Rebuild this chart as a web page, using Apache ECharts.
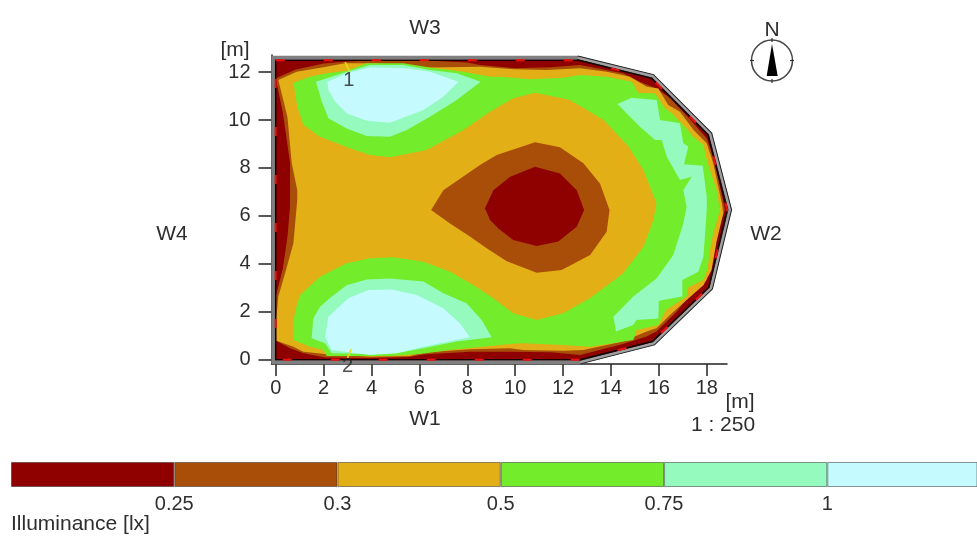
<!DOCTYPE html>
<html>
<head>
<meta charset="utf-8">
<style>html,body{margin:0;padding:0;background:#fff}#c{width:977px;height:536px;filter:blur(.45px)}</style>
<script src="https://cdn.jsdelivr.net/npm/echarts@6/dist/echarts.min.js"></script>
</head>
<body>
<div id="c"></div>
<script>
// axis ticks (metres)
const xTicks = [0,2,4,6,8,10,12,14,16,18];
const yTicks = [0,2,4,6,8,10,12];

// legend
const legendTicks = ['0.25','0.3','0.5','0.75','1'];
const legendColors = ['#8f0000','#a94e08','#e3af17','#73ec2b','#94fabd','#c5fbff'];
const legendSpan = [1,1,1,1,1,1];

// room outline, metres
const roomWall = [[0,12.5],[12.64,12.5],[15.7,11.74],[18.05,9.38],[18.85,6.25],[18.08,3.0],[15.72,.74],[12.7,-.02],[0,-.02]];
const wallOuter = [[-.09,12.6],[12.6,12.6],[15.74,11.83],[18.14,9.42],[18.96,6.25],[18.17,2.98],[15.78,.67],[12.7,-.12],[-.09,-.12]];
const wallSlant = [[12.6,12.6],[15.74,11.83],[18.14,9.42],[18.96,6.25],[18.17,2.98],[15.78,.67],[12.7,-.12]];

// illuminance isolines, metres
const isoBrownOuter = [[.02,11.75],[.81,12.1],[2,12.36],[2.9,12.44],[4,12.5],[6,12.5],[8,12.4],[8.53,12.3],[10,12.16],[11.5,12.2],[12.7,12.3],[14.5,11.95],[15.2,11.6],[15.91,11.32],[16.49,10.9],[17.3,10.03],[18,9.23],[18.35,8.19],[18.76,6.24],[18.41,5.26],[18,3.31],[17.3,2.69],[16.74,1.99],[15.9,1.16],[15.49,.95],[14.5,.64],[12.71,.18],[11.5,.3],[9.78,.32],[8.11,.32],[6.17,.2],[5.6,.1],[3.94,.05],[2.06,.08],[1.16,.25],[.6,.46],[.02,.78],[0,2.6],[.3,3.8],[.5,5.2],[.6,6.4],[.6,8.2],[.3,10.3],[.03,11.6]];
const isoGoldOuter = [[.11,11.67],[.88,12.02],[1.99,12.2],[2.9,12.37],[4.22,12.37],[6.44,12.19],[8.53,12.23],[9.93,12.12],[11.3,12.09],[12.71,12.16],[13.82,12.02],[14.79,11.81],[15.49,11.39],[15.98,11.32],[16.39,10.63],[16.88,10.35],[17.45,9.58],[18,9.02],[18.27,8.19],[18.63,6.52],[18.69,6.1],[18.41,4.92],[18.2,3.73],[17.86,3.1],[17.16,2.48],[16.54,1.92],[15.9,1.3],[15.49,1.16],[14.5,.74],[12.85,.39],[12,.36],[10.34,.39],[9.78,.46],[8.11,.42],[6.17,.28],[5.6,.14],[3.94,.11],[2.06,.22],[1.16,.32],[.74,.53],[.03,.78],[.02,1.6],[.11,2.62],[.39,3.59],[.74,4.85],[.9,6.66],[.9,7.08],[.67,8.19],[.49,10.14]];
const isoGreen = [[.74,11.56],[1.43,11.81],[2.13,11.95],[2.96,12.06],[3.8,12.37],[5.33,12.37],[6.44,12.19],[7.84,12.02],[8.95,11.81],[9.37,11.81],[10.62,11.7],[12,11.77],[12.71,11.88],[13.82,11.81],[14.87,11.6],[15.14,11.14],[15.84,11.11],[16.26,10.49],[16.54,10.28],[17.16,9.65],[17.44,9.3],[17.86,8.96],[18,8.33],[18.41,7.07],[18.55,6.24],[18.2,4.99],[18.02,3.73],[17.86,3.31],[17.23,3.01],[17.16,2.62],[16.3,2.06],[15.98,1.43],[15.08,1.23],[14.93,.81],[13.13,.53],[12,.6],[10.34,.67],[9.78,.64],[8.95,.56],[7.28,.39],[6.03,.22],[4.77,.14],[2.13,.14],[1.99,.39],[1.43,.53],[.74,.81],[.74,1.64],[.9,2.34],[1.02,2.69],[1.85,3.45],[2.96,4.01],[3.94,4.22],[4.91,4.26],[6.17,4.08],[7.28,3.66],[8.25,3.11],[9.09,2.55],[9.92,1.92],[10.9,1.64],[12,1.92],[13.12,2.55],[14.5,3.59],[15.36,4.71],[15.77,5.82],[15.9,6.52],[15.35,7.91],[14.73,8.89],[13.69,10],[12.29,10.84],[10.83,11.14],[9.92,10.91],[8.95,10.35],[7.84,9.58],[6.3,8.75],[4.77,8.44],[3.94,8.54],[3.1,8.82],[1.85,9.3],[1.16,9.79],[.9,10.56]];
const isoMintNorth = [[1.68,11.6],[2.96,12.02],[3.94,12.3],[5.33,12.3],[6.44,12.09],[7.56,11.95],[8.56,11.6],[7.56,10.84],[6.44,10.14],[5.47,9.58],[4.77,9.3],[3.8,9.33],[2.96,9.65],[2.2,10.07],[1.92,10.77]];
const isoCyanNorth = [[2.16,11.6],[2.96,11.95],[3.94,12.2],[5.47,12.16],[6.44,12.02],[7.63,11.6],[7,10.97],[6.17,10.42],[4.77,9.89],[3.8,9.97],[2.96,10.28],[2.48,10.77],[2.2,11.25]];
const isoMintSouth = [[1.5,.88],[2.06,.67],[2.34,.25],[3.8,.22],[5.05,.25],[6.17,.46],[7.56,.74],[9.02,.92],[8.6,1.64],[7.97,2.34],[7,2.76],[6.17,3.25],[4.77,3.38],[3.8,3.34],[2.96,3.1],[2.34,2.62],[1.85,2.2],[1.57,1.71]];
const isoCyanSouth = [[2.06,.92],[2.34,.39],[3.94,.18],[5.05,.25],[6.17,.53],[8.11,.92],[7.7,1.5],[7,2.13],[5.89,2.69],[4.84,2.92],[3.87,2.9],[3.03,2.55],[2.2,1.78]];
const isoMintEast = [[14.27,10.67],[14.86,10.93],[15.91,10.84],[16.05,10],[16.88,9.86],[17.02,9.03],[17.23,8.89],[17.05,8.15],[17.83,8.09],[18,6.8],[18,6.24],[17.86,4.29],[17.65,3.66],[16.98,3.31],[16.98,2.62],[16,2.45],[15.98,1.71],[15.07,1.64],[14.93,1.43],[14.21,1.16],[14.1,1.78],[14.93,2.62],[15.9,3.38],[16.6,4.36],[17.02,5.68],[17.16,6.38],[17.02,7.07],[17.37,7.63],[16.88,7.49],[16.33,8.47],[16.12,9.16],[15.84,9.16],[15.21,9.72]];
const isoBrownCentre = [[6.49,6.24],[7,7.07],[8.53,8.12],[9.23,8.54],[10.83,9.07],[11.87,8.86],[12.85,8.19],[13.54,7.35],[13.94,6.24],[13.82,5.33],[13.13,4.36],[11.94,3.73],[10.9,3.62],[9.65,4.1],[8.81,4.64],[8.11,5.13],[7.28,5.68]];
const isoRedCentre = [[8.74,6.31],[9.09,7.07],[9.79,7.63],[10.83,8.05],[11.87,7.77],[12.57,7.07],[12.88,6.24],[12.57,5.54],[11.8,4.92],[10.9,4.74],[9.92,4.99],[9.3,5.47],[8.95,5.82]];

// measurement points
const pointLabels = [['1',3.05,11.66],['2',3.0,-.3]];
const pointMarks = [[[2.9,12.42],[3.1,12.0]],[[3.15,.42],[3.0,.05]]];

const c = legendColors;
const fills = [
  [roomWall,c[0]],[isoBrownOuter,c[1]],[isoGoldOuter,c[2]],[isoGreen,c[3]],
  [isoMintNorth,c[4]],[isoCyanNorth,c[5]],[isoMintSouth,c[4]],[isoCyanSouth,c[5]],[isoMintEast,c[4]],
  [isoBrownCentre,c[1]],[isoRedCentre,c[0]]
];
const textColor = '#2e2e2e';
const font = 'Liberation Sans';
function label(x,y,t,align){
  return {type:'text',x:x,y:y,style:{text:t,font:'21px "Liberation Sans"',fill:textColor,align:align||'center',verticalAlign:'middle'}};
}
function compassTick(x1,y1,x2,y2){
  return {type:'line',shape:{x1:x1,y1:y1,x2:x2,y2:y2},style:{stroke:'#333',lineWidth:1.2}};
}
const chart = echarts.init(document.getElementById('c'),null,{renderer:'canvas'});
chart.setOption({
  animation:false,
  backgroundColor:'#fff',
  grid:[
    {left:271.5,top:55,width:455.5,height:309},
    {left:11,top:462,width:966,height:25}
  ],
  xAxis:[
    {type:'value',gridIndex:0,min:-.175,max:18.845,splitLine:{show:false},
     axisLine:{onZero:false,lineStyle:{color:'#222',width:1.5}},
     axisTick:{customValues:xTicks,length:12,lineStyle:{color:'#222',width:1.5}},
     axisLabel:{customValues:xTicks,margin:14,fontSize:20,fontFamily:font,color:textColor}},
    {type:'value',gridIndex:1,min:0,max:5.917,splitLine:{show:false},axisLine:{show:false},axisTick:{show:false},
     axisLabel:{customValues:[1,2,3,4,5],formatter:v=>legendTicks[v-1],margin:7,fontSize:20,fontFamily:font,color:textColor}}
  ],
  yAxis:[
    {type:'value',gridIndex:0,min:-.196,max:12.717,splitLine:{show:false},
     axisLine:{onZero:false,lineStyle:{color:'#222',width:1.5}},
     axisTick:{customValues:yTicks,length:13,lineStyle:{color:'#222',width:1.5}},
     axisLabel:{customValues:yTicks,margin:21,fontSize:20,fontFamily:font,color:textColor}},
    {type:'category',gridIndex:1,data:['lx'],show:false}
  ],
  series:[
    {type:'custom',xAxisIndex:0,yAxisIndex:0,coordinateSystem:'cartesian2d',silent:true,clip:false,z:2,
     data:fills.map((f,i)=>[i]),
     renderItem:(p,api)=>{
       const f=fills[api.value(0)];
       return {type:'polygon',shape:{points:f[0].map(q=>api.coord(q))},style:{fill:f[1]}};
     }},
    {type:'custom',xAxisIndex:0,yAxisIndex:0,coordinateSystem:'cartesian2d',silent:true,clip:false,z:3,
     data:[[0]],
     renderItem:(p,api)=>{
       const P=a=>a.map(q=>api.coord(q));
       return {type:'group',children:[
         {type:'polygon',shape:{points:P(wallOuter)},style:{fill:null,stroke:'#808080',lineWidth:4}},
         {type:'polyline',shape:{points:P(wallSlant)},style:{fill:null,stroke:'#222',lineWidth:4.5}},
         {type:'polyline',shape:{points:P(wallSlant)},style:{fill:null,stroke:'#a0a0a0',lineWidth:2.5}},
         {type:'polygon',shape:{points:P(roomWall)},style:{fill:null,stroke:'#1a0000',lineWidth:1.5}},
         {type:'polygon',shape:{points:P(roomWall)},style:{fill:null,stroke:'#ee1111',lineWidth:2,lineDash:[9,39]}}
       ]};
     }},
    {type:'custom',xAxisIndex:0,yAxisIndex:0,coordinateSystem:'cartesian2d',silent:true,clip:false,z:4,
     data:pointMarks.map((m,i)=>[i]),
     renderItem:(p,api)=>{
       const m=pointMarks[api.value(0)];
       return {type:'polyline',shape:{points:m.map(q=>api.coord(q))},style:{fill:null,stroke:'#e8dc10',lineWidth:1.5}};
     }},
    {type:'scatter',xAxisIndex:0,yAxisIndex:0,silent:true,symbolSize:0,z:5,clip:false,
     data:pointLabels.map(l=>({value:[l[1],l[2]],name:l[0]})),
     label:{show:true,position:'inside',formatter:'{b}',fontSize:20,fontFamily:font,color:'#222'}},
    ...legendSpan.map((v,i)=>({
      type:'bar',xAxisIndex:1,yAxisIndex:1,stack:'legend',barWidth:'100%',silent:true,
      data:[v],itemStyle:{color:legendColors[i],borderColor:'rgba(40,40,40,.5)',borderWidth:1}
    }))
  ],
  graphic:{elements:[
    label(425,28,'W3'),label(172,234,'W4'),label(766,234,'W2'),label(425,419,'W1'),
    label(235,50,'[m]'),label(740,402,'[m]'),label(723,425,'1 : 250'),
    label(772,30,'N'),
    label(11,524,'Illuminance [lx]','left'),
    {type:'circle',shape:{cx:772,cy:60.5,r:20.5},style:{fill:'#fff',stroke:'#444',lineWidth:1.5}},
    compassTick(772,38,772,42),compassTick(772,79,772,83),compassTick(750,60.5,754,60.5),compassTick(790,60.5,794,60.5),
    {type:'polygon',shape:{points:[[772,44],[766.7,76],[777.7,76]]},style:{fill:'#000'}}
  ]}
});
</script>
</body>
</html>
